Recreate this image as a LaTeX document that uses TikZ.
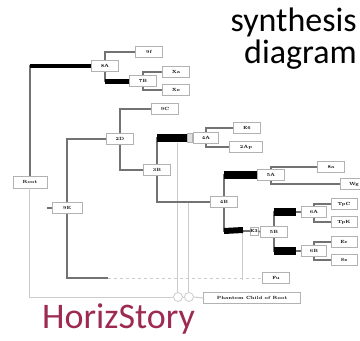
\documentclass[tikz,border=0pt]{standalone}
\usepackage{fontspec}
\newfontfamily\titlefont{Carlito}
\definecolor{storyred}{HTML}{9C2A52}
\tikzset{
  box/.style={draw=gray!60, fill=white, line width=0.9, minimum width=27, minimum height=11, inner sep=0, font=\fontsize{4.5}{5}\selectfont\bfseries},
  stub/.style={draw=gray!60, fill=gray!25, line width=0.6, minimum width=5, minimum height=9, inner sep=0},
  ring/.style={circle, draw=gray!40, fill=white, line width=0.8, minimum size=9, inner sep=0},
  gline/.style={draw=black!55, line width=1.3},
  pale/.style={draw=gray!40, line width=1},
  bar/.style={draw=black, line width=4},
}
\begin{document}
\begin{tikzpicture}[x=1pt, y=-1pt]
				\useasboundingbox (0,0) rectangle (360,341);
				\node[box, minimum width=34, minimum height=12] (root) at (30,182) {Root};
				\node[box] (a8) at (105,66) {8A};
				\node[box] (f9) at (149,52) {9f};
				\node[box] (b7) at (143,81) {7B};
				\node[box] (xa) at (176,72) {Xa};
				\node[box] (xe) at (176,90) {Xe};
				\node[box] (c9) at (165,109) {9C};
				\node[box] (d2) at (120,139) {2D};
				\node[box] (b3) at (157,170) {3B};
				\node[box, minimum width=25] (a4) at (206,138) {4A};
				\node[stub] (sk1) at (189.5,138) {};
				\node[box] (e6) at (247,128) {E6};
				\node[box, minimum width=33] (ap2) at (246,147) {2Ap};
				\node[box] (b4) at (224,202) {4B};
				\node[box] (a5) at (271,175) {5A};
				\node[box] (a8s) at (331,167) {8a};
				\node[box] (wg) at (354,184) {Wg};
				\node[box, minimum width=8, minimum height=8] (sk2) at (254,231) {E3};
				\node[box] (b5) at (274,232) {5B};
				\node[box, minimum width=25] (a6) at (314,212) {6A};
				\node[box, minimum width=25] (b6) at (314,251) {6B};
				\node[box, minimum width=26] (tpc) at (344,204) {TpC};
				\node[box, minimum width=26] (tpk) at (344,222) {TpK};
				\node[box, minimum width=26] (ec) at (344,242) {Ec};
				\node[box, minimum width=26] (se) at (344,260) {Se};
				\node[box, minimum width=30] (e9) at (67,208) {9E};
				\node[box] (fu) at (276,278) {Fu};
				\node[box, minimum width=97] (ph) at (252,298) {Phantom Child of Root};
				\node[ring] (o1) at (178,297) {};
				\node[ring] (o2) at (189,297) {};
				\coordinate (dk) at (108,278);
				\coordinate (be) at (243,230);
				\node[font=\titlefont\fontsize{34}{32}\selectfont, align=right, anchor=north east, inner sep=0] (title) at (357,8) {synthesis\\diagram};
				\node[font=\titlefont\fontsize{36}{36}\selectfont, text=storyred, anchor=north west, inner sep=0] (story) at (42,304) {HorizStory};

				\draw[pale] (root.south) |- (o1.west);
				\draw[pale] (o1.east) -- (o2.west);
				\draw[pale] (o2.east) -- (ph.west);
				\draw[pale] (o1.north) -- (o1 |- sk1.south);
				\draw[pale] (o2.north) -- (o2 |- b4.west);
				\draw[pale, dashed] (dk) -- (fu.west);
				\draw[pale] (be) -- ([yshift=-2]be |- fu.west);
				\draw[gline] (root.north) |- (a8.west);
				\draw[bar] (root.north |- a8.west) -- (a8.west);
				\draw[gline] (root.east |- e9.west) -- (e9.west);
				\draw[gline] (a8.north) |- (f9.west);
				\draw[gline] (a8.south) |- (b7.west);
				\draw[bar, line width=5] (a8.south |- b7.west) -- (b7.west);
				\draw[gline] (b7.north) |- (xa.west);
				\draw[gline] (b7.south) |- (xe.west);
				\draw[gline] (e9.north) |- (d2.west);
				\draw[gline] (e9.south) |- (dk);
				\draw[gline] (d2.north) |- (c9.west);
				\draw[gline, line width=1.7] (d2.south) |- (b3.west);
				\draw[gline] (b3.north) |- (sk1.west);
				\draw[bar, line width=8] (b3.north |- sk1.west) -- (sk1.west);
				\draw[gline] (b3.south) |- (b4.west);
				\draw[gline] (a4.north) |- (e6.west);
				\draw[gline] (a4.south) |- (ap2.west);
				\draw[gline] (b4.north) |- (a5.west);
				\draw[bar, line width=8] (b4.north |- a5.west) -- (a5.west);
				\draw[gline] (b4.south) |- (sk2.west);
				\draw[bar, line width=6] (b4.south |- sk2.west) -- (be);
				\draw[gline] (sk2.east) -- (b5.west);
				\draw[gline] (a5.north) |- (a8s.west);
				\draw[gline] (a5.south) |- (wg.west);
				\draw[gline] (b5.north) |- (a6.west);
				\draw[bar, line width=8, shorten >=5] (b5.north |- a6.west) -- (a6.west);
				\draw[gline] (b5.south) |- (b6.west);
				\draw[bar, line width=8, shorten >=5] (b5.south |- b6.west) -- (b6.west);
				\draw[gline] (a6.north) |- (tpc.west);
				\draw[gline] (a6.south) |- (tpk.west);
				\draw[gline] (b6.north) |- (ec.west);
				\draw[gline] (b6.south) |- (se.west);
			\end{tikzpicture}
\end{document}
